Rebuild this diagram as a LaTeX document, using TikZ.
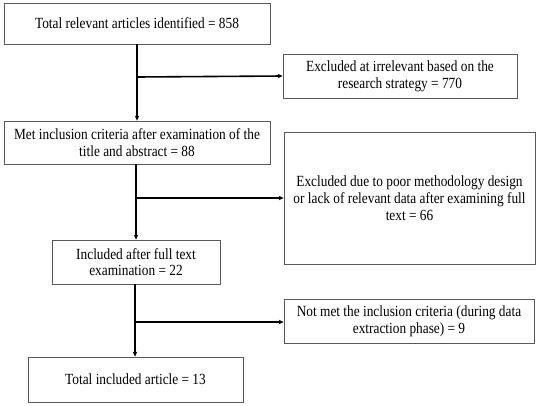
\documentclass[tikz,border=0pt]{standalone}
\usepackage{fontspec}
\setmainfont{Liberation Serif}[FakeStretch=0.86]
\usetikzlibrary{arrows.meta}
\begin{document}
\begin{tikzpicture}[x=1pt,y=-1pt,
  box/.style={draw=black!65, line width=0.8pt, fill=white, inner sep=0pt, align=center, font=\fontsize{15.5}{16.7}\selectfont},
  flow/.style={line width=1.6pt, -{Stealth[length=5pt,width=4.5pt]}}]
\useasboundingbox (0,0) rectangle (538,405);
% main column boxes
\node[box, minimum width=266pt, minimum height=41pt] (b1) at (137,23.5) {Total relevant articles identified = 858};
\node[box, minimum width=266pt, minimum height=43pt] (b2) at (137,142.5) {Met inclusion criteria after examination of the\\ title and abstract = 88};
\node[box, minimum width=168pt, minimum height=44pt] (b3) at (136,262) {Included after full text\\ examination = 22};
\node[box, minimum width=215pt, minimum height=45pt] (b4) at (135.5,379.5) {Total included article = 13};
% side boxes
\node[box, minimum width=234pt, minimum height=44pt] (e1) at (400,76) {Excluded at irrelevant based on the\\ research strategy = 770};
\node[box, minimum width=251pt, minimum height=132pt] (e2) at (409.5,198) {Excluded due to poor methodology design\\ or lack of relevant data after examining full\\ text = 66};
\node[box, minimum width=250pt, minimum height=44pt] (e3) at (409,321) {Not met the inclusion criteria (during data\\ extraction phase) = 9};
% junctions
\coordinate (j1) at (137,77);
\coordinate (j2) at (136,198);
\coordinate (j3) at (135,322);
% connectors
\draw[flow] (b1.south -| j1) -- (b2.north -| j1);
\draw[flow] (j1) -- (e1.west);
\draw[flow] (b2.south -| j2) -- (b3.north -| j2);
\draw[flow] (j2) -- (e2.west);
\draw[flow] (b3.south -| j3) -- (b4.north -| j3);
\draw[flow] (j3) -- (j3 -| e3.west);
\end{tikzpicture}
\end{document}
